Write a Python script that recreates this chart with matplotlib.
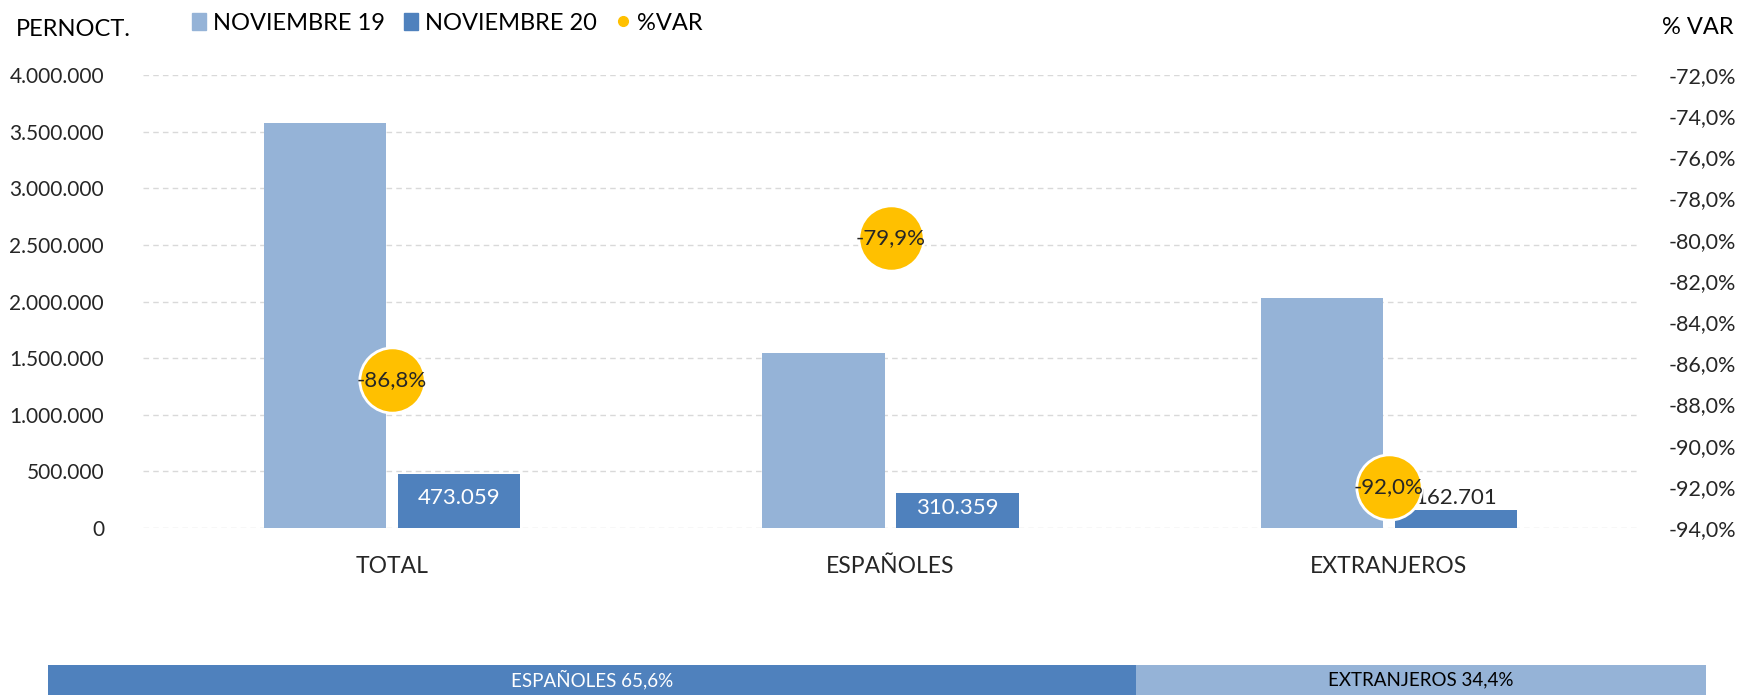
import matplotlib
matplotlib.use("Agg")
import matplotlib.pyplot as plt
from matplotlib.patches import Patch
from matplotlib.lines import Line2D
from matplotlib.ticker import FuncFormatter, MultipleLocator
import numpy as np

plt.rcParams['font.family'] = ['Lato', 'DejaVu Sans']
fs = 15.5

# Data
categories = ["TOTAL", "ESPAÑOLES", "EXTRANJEROS"]
nov19 = [3578000, 1544000, 2034000]
nov20 = [473059, 310359, 162701]
var_pct = [-86.8, -79.9, -92.0]
share_labels = ["ESPAÑOLES", "EXTRANJEROS"]
share_pct = [65.6, 34.4]

c19 = "#95B3D7"
c20 = "#4F81BD"
cvar = "#FFC000"
txt = "#262626"


def miles(v):
    return f"{int(round(v)):,}".replace(",", ".")


fig = plt.figure(figsize=(17.46, 6.95), dpi=100)
ax = fig.add_axes([143 / 1746, 167 / 695, 1495 / 1746, 453 / 695])
ax2 = ax.twinx()

x = np.arange(len(categories))
w = 0.245
off = 0.1345
ax.bar(x - off, nov19, w, color=c19, zorder=2)
ax.bar(x + off, nov20, w, color=c20, zorder=2)

# labels on the Nov-20 bars
for xi, v in zip(x, nov20):
    if v > 250000:
        ax.text(xi + off, v / 2 + 25000, miles(v), ha='center', va='center',
                color='white', fontsize=16, zorder=3)
    else:
        ax.text(xi + off, v + 15000, miles(v), ha='center', va='bottom',
                color=txt, fontsize=16, zorder=3)

ax.set_xlim(-0.5, 2.5)
ax.set_ylim(0, 4000000)
ax.yaxis.set_major_locator(MultipleLocator(500000))
ax.yaxis.set_major_formatter(FuncFormatter(lambda v, p: miles(v)))
ax.grid(axis='y', color='#D9D9D9', linestyle=(0, (4, 3)), linewidth=1, zorder=0)
ax.set_axisbelow(True)
ax.set_xticks(x)
ax.set_xticklabels(categories)
ax.tick_params(axis='x', length=0, pad=20, labelsize=16.5, labelcolor=txt)
ax.tick_params(axis='y', length=0, pad=28, labelsize=15, labelcolor=txt)
for s in ax.spines.values():
    s.set_visible(False)

# %VAR markers on the secondary axis
ax2.plot(x, var_pct, linestyle='none', marker='o', markersize=47,
         markerfacecolor=cvar, markeredgecolor='white', markeredgewidth=2, zorder=4)
for xi, v in zip(x, var_pct):
    ax2.text(xi, v, f"{v:.1f}%".replace(".", ","), ha='center', va='center',
             color=txt, fontsize=16, zorder=5)
ax2.set_ylim(-94, -72)
ax2.yaxis.set_major_locator(MultipleLocator(2))
ax2.yaxis.set_major_formatter(FuncFormatter(lambda v, p: f"{v:.1f}%".replace(".", ",")))
ax2.tick_params(axis='y', length=0, pad=22, labelsize=15.5, labelcolor=txt)
for s in ax2.spines.values():
    s.set_visible(False)

# axis titles
fig.text(16 / 1746, 1 - 29 / 695, "PERNOCT.", ha='left', va='center', fontsize=17, color='black')
fig.text(1734 / 1746, 1 - 27 / 695, "% VAR", ha='right', va='center', fontsize=17, color='black')

handles = [Patch(color=c19), Patch(color=c20),
           Line2D([], [], linestyle='none', marker='o', markersize=7, color=cvar)]
fig.legend(handles, ["NOVIEMBRE 19", "NOVIEMBRE 20", "%VAR"], loc='center left',
           bbox_to_anchor=(192 / 1746, 1 - 23 / 695), ncol=3, frameon=False,
           fontsize=17, handlelength=0.6, handleheight=0.7, handletextpad=0.3,
           columnspacing=0.8, borderpad=0, borderaxespad=0)

# share strip at the bottom
axs = fig.add_axes([48 / 1746, 0, 1658 / 1746, 30 / 695])
left = 0
share_colors = [c20, c19]
share_text = ['white', 'black']
for lab, p, col, tc in zip(share_labels, share_pct, share_colors, share_text):
    axs.barh(0, p, left=left, color=col, height=1)
    axs.text(left + p / 2, 0, f"{lab} {p:.1f}%".replace(".", ","), ha='center',
             va='center', color=tc, fontsize=13.5)
    left += p
axs.set_xlim(0, sum(share_pct))
axs.set_ylim(-0.5, 0.5)
axs.axis('off')

fig.savefig("out.png", dpi=100)
